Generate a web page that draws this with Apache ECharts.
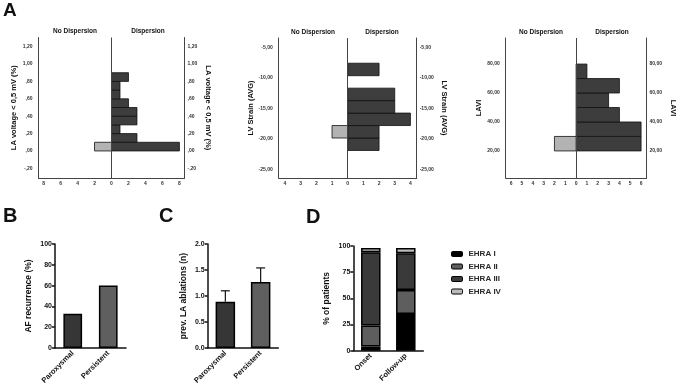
<!DOCTYPE html>
<html>
<head>
<meta charset="utf-8">
<script src="https://cdn.jsdelivr.net/npm/echarts@6/dist/echarts.min.js"></script>
<style>
    html, body { margin: 0; padding: 0; background: #fff; }
    #chart { width: 678px; height: 392px; }
</style>
</head>
<body>
<div id="chart"></div>
<script>
    // A: histograms, bin edges (low -> high) and counts per bin
    var laEdges = [0, 0.1, 0.2, 0.3, 0.4, 0.5, 0.6, 0.7, 0.8, 0.9];
    var laDisp = [8, 3, 1, 3, 3, 2, 1, 1, 2];
    var laNoDisp = [2, 0, 0, 0, 0, 0, 0, 0, 0];
    var laTicks = [-0.2, 0, 0.2, 0.4, 0.6, 0.8, 1.0, 1.2];
    var laCountTicks = [-8, -6, -4, -2, 0, 2, 4, 6, 8];

    var lvEdges = [-21.9, -19.85, -17.8, -15.75, -13.7, -11.65, -9.6, -7.55];
    var lvDisp = [2, 2, 4, 3, 3, 0, 2];
    var lvNoDisp = [0, 1, 0, 0, 0, 0, 0];
    var lvTicks = [-25, -20, -15, -10, -5];
    var lvCountTicks = [-4, -3, -2, -1, 0, 1, 2, 3, 4];

    var laviEdges = [20, 30, 40, 50, 60, 70, 80];
    var laviDisp = [6, 6, 4, 3, 4, 1];
    var laviNoDisp = [2, 0, 0, 0, 0, 0];
    var laviTicks = [20, 40, 60, 80];
    var laviCountTicks = [-6, -5, -4, -3, -2, -1, 0, 1, 2, 3, 4, 5, 6];

    // B
    var afTypes = ['Paroxysmal', 'Persistent'];
    var afRecurrence = [33, 60];
    // C
    var ablMean = [0.89, 1.27];
    var ablUpper = [1.10, 1.54];
    // D
    var ehraTimes = ['Onset', 'Follow-up'];
    var ehraNames = ['EHRA I', 'EHRA II', 'EHRA III', 'EHRA IV'];
    var ehraI = [4, 35];
    var ehraII = [20, 23];
    var ehraIII = [70, 35];
    var ehraIV = [4, 5];

    var chart = echarts.init(document.getElementById('chart'));

    var F = 'Liberation Sans, Arial, sans-serif';
    var dark = '#3d3d3d';
    var light = '#b3b3b3';

    function spss(v) {
        var s = Math.abs(v).toFixed(2).replace('.', ',');
        if (s.indexOf('0,') === 0) s = s.slice(1);
        return (v < 0 ? '-' : '') + s;
    }

    function histData(edges, counts, sign) {
        var out = [];
        for (var i = 0; i < counts.length; i++) {
            if (counts[i] > 0) out.push([sign * counts[i], edges[i], edges[i + 1]]);
        }
        return out;
    }

    function histItem(color) {
        return function (params, api) {
            var a = api.coord([0, api.value(2)]);
            var b = api.coord([api.value(0), api.value(1)]);
            return {
                type: 'rect',
                shape: {x: Math.min(a[0], b[0]), y: a[1], width: Math.abs(b[0] - a[0]), height: b[1] - a[1]},
                style: {fill: color, stroke: '#111', lineWidth: 0.8}
            };
        };
    }

    function histX(idx, lim, ticks) {
        return {
            type: 'value', gridIndex: idx, min: -lim, max: lim,
            splitLine: {show: false}, axisTick: {show: false},
            axisLine: {onZero: false, lineStyle: {color: '#444', width: 1}},
            axisLabel: {
                customValues: ticks, margin: 3, fontSize: 5, fontWeight: 'bold', color: '#333', fontFamily: F,
                formatter: function (v) { return String(Math.abs(v)); }
            }
        };
    }

    function histY(idx, pos, min, max, ticks, name, gap, margin) {
        return {
            type: 'value', gridIndex: idx, position: pos, min: min, max: max,
            name: name, nameLocation: 'middle', nameRotate: pos === 'left' ? 90 : -90, nameGap: gap,
            nameTextStyle: {fontSize: 7.5, fontWeight: 'bold', color: '#111', fontFamily: F},
            splitLine: {show: false}, axisTick: {show: false},
            axisLine: {show: true, onZero: false, lineStyle: {color: '#444', width: 1}},
            axisLabel: {customValues: ticks, margin: margin, fontSize: 5, fontWeight: 'bold', color: '#333', fontFamily: F, formatter: spss}
        };
    }

    function histSeries(idx, edges, disp, noDisp) {
        return [
            {
                type: 'custom', xAxisIndex: idx, yAxisIndex: idx * 2,
                renderItem: histItem(dark), data: histData(edges, disp, 1),
                markLine: {
                    silent: true, symbol: 'none', label: {show: false},
                    lineStyle: {color: '#444', width: 1, type: 'solid'},
                    data: [{xAxis: 0}]
                }
            },
            {
                type: 'custom', xAxisIndex: idx, yAxisIndex: idx * 2,
                renderItem: histItem(light), data: histData(edges, noDisp, -1)
            }
        ];
    }

    function prismY(idx, min, max, interval, name, gap, dec) {
        return {
            type: 'value', gridIndex: idx, min: min, max: max, interval: interval,
            name: name, nameLocation: 'middle', nameRotate: 90, nameGap: gap,
            nameTextStyle: {fontSize: 8.5, fontWeight: 'bold', color: '#111', fontFamily: F},
            splitLine: {show: false},
            axisLine: {show: true, lineStyle: {color: '#111', width: 1.5}},
            axisTick: {show: true, length: 3, lineStyle: {color: '#111', width: 1.5}},
            axisLabel: {
                margin: 3, fontSize: 7, fontWeight: 'bold', color: '#111', fontFamily: F,
                formatter: function (v) { return dec ? v.toFixed(dec) : String(v); }
            }
        };
    }

    function prismX(idx, cats) {
        return {
            type: 'category', gridIndex: idx, data: cats,
            axisLine: {lineStyle: {color: '#111', width: 1.5}},
            axisTick: {alignWithLabel: true, length: 3, lineStyle: {color: '#111', width: 1.5}},
            axisLabel: {rotate: 45, margin: 4, fontSize: 7.5, fontWeight: 'bold', color: '#111', fontFamily: F}
        };
    }

    var textStyle = function (txt, x, y, size, align) {
        return {
            type: 'text', x: x, y: y,
            style: {text: txt, font: 'bold ' + size + 'px ' + F, fill: '#111', textAlign: align || 'center', textVerticalAlign: 'middle'}
        };
    };

    var ehraColors = ['#000000', '#5e5e5e', '#3a3a3a', '#bcbcbc'];
    var ehraData = [ehraI, ehraII, ehraIII, ehraIV];

    var option = {
        animation: false,
        grid: [
            {left: 38.5, top: 37.5, width: 146, height: 140.5},
            {left: 278.7, top: 38, width: 138, height: 140},
            {left: 505.7, top: 38, width: 141.6, height: 140},
            {left: 55, top: 244, width: 71, height: 104},
            {left: 207.7, top: 244, width: 70.6, height: 104},
            {left: 353.3, top: 246, width: 70, height: 104.7}
        ],
        xAxis: [
            histX(0, 8.6, laCountTicks),
            histX(1, 4.4, lvCountTicks),
            histX(2, 6.5, laviCountTicks),
            prismX(3, afTypes),
            prismX(4, afTypes),
            prismX(5, ehraTimes)
        ],
        yAxis: [
            histY(0, 'left', -0.311, 1.305, laTicks, 'LA voltage < 0,5 mV (%)', 21, 6),
            histY(0, 'right', -0.311, 1.305, laTicks, 'LA voltage < 0,5 mV (%)', 20, 3),
            histY(1, 'left', -26.43, -3.4, lvTicks, 'LV Strain (AVG)', 24, 6),
            histY(1, 'right', -26.43, -3.4, lvTicks, 'LV Strain (AVG)', 23, 3),
            histY(2, 'left', 1.3, 98, laviTicks, 'LAVI', 12.5, 6),
            histY(2, 'right', 1.3, 98, laviTicks, 'LAVI', 22.5, 3),
            prismY(3, 0, 100, 20, 'AF recurrence (%)', 22, 0),
            prismY(4, 0, 2, 0.5, 'prev. LA ablations (n)', 20, 1),
            prismY(5, 0, 100, 25, '% of patients', 22, 0)
        ],
        legend: {
            orient: 'vertical', left: 446, top: 245,
            itemWidth: 11, itemHeight: 5, itemGap: 4.5,
            data: ehraNames,
            itemStyle: {borderColor: '#000', borderWidth: 1},
            textStyle: {fontSize: 8, fontWeight: 'bold', color: '#2a2a2a', fontFamily: F, padding: [0, 0, 0, 1]}
        },
        graphic: [
            textStyle('A', 3, 11, 19, 'left'),
            textStyle('B', 3, 216, 20, 'left'),
            textStyle('C', 159, 216, 20, 'left'),
            textStyle('D', 306, 217, 20, 'left'),
            textStyle('No Dispersion', 75, 31, 6.5),
            textStyle('Dispersion', 148, 31, 6.5),
            textStyle('No Dispersion', 313, 32, 6.5),
            textStyle('Dispersion', 382, 32, 6.5),
            textStyle('No Dispersion', 541, 32, 6.5),
            textStyle('Dispersion', 612, 32, 6.5)
        ],
        series: [].concat(
            histSeries(0, laEdges, laDisp, laNoDisp),
            histSeries(1, lvEdges, lvDisp, lvNoDisp),
            histSeries(2, laviEdges, laviDisp, laviNoDisp),
            [
                {
                    type: 'bar', xAxisIndex: 3, yAxisIndex: 6, barWidth: 18.7,
                    data: afRecurrence.map(function (v, i) {
                        return {value: v, itemStyle: {color: i === 0 ? '#363636' : '#5f5f5f'}};
                    }),
                    itemStyle: {borderColor: '#000', borderWidth: 1.5}
                },
                {
                    type: 'bar', xAxisIndex: 4, yAxisIndex: 7, barWidth: 19.5,
                    data: ablMean.map(function (v, i) {
                        return {value: v, itemStyle: {color: i === 0 ? '#363636' : '#5f5f5f'}};
                    }),
                    itemStyle: {borderColor: '#000', borderWidth: 1.5}
                },
                {
                    type: 'custom', xAxisIndex: 4, yAxisIndex: 7, z: 5,
                    data: ablMean.map(function (v, i) { return [i, v, ablUpper[i]]; }),
                    renderItem: function (params, api) {
                        var a = api.coord([api.value(0), api.value(1)]);
                        var b = api.coord([api.value(0), api.value(2)]);
                        var st = {stroke: '#111', lineWidth: 1.2};
                        return {
                            type: 'group', children: [
                                {type: 'line', shape: {x1: a[0], y1: a[1], x2: b[0], y2: b[1]}, style: st},
                                {type: 'line', shape: {x1: b[0] - 4.5, y1: b[1], x2: b[0] + 4.5, y2: b[1]}, style: st}
                            ]
                        };
                    }
                }
            ],
            ehraNames.map(function (n, k) {
                return {
                    name: n, type: 'bar', stack: 'ehra', xAxisIndex: 5, yAxisIndex: 8, barWidth: 19.5,
                    data: ehraData[k],
                    itemStyle: {color: ehraColors[k], borderColor: '#000', borderWidth: 1.5}
                };
            })
        )
    };

    chart.setOption(option);
    window.addEventListener('resize', function () {
        chart.resize();
    });
</script>
</body>
</html>
